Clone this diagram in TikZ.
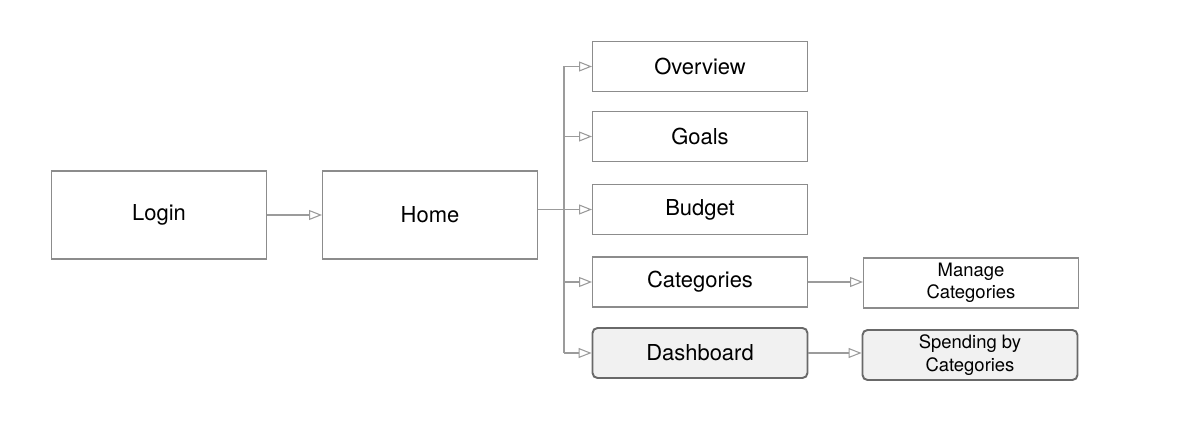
\documentclass[tikz,border=0pt]{standalone}
\usepackage{fontspec}
\setmainfont{TeX Gyre Heros}
\usetikzlibrary{arrows.meta}

\definecolor{boxgray}{RGB}{140,140,140}
\definecolor{linegray}{RGB}{155,155,155}
\definecolor{darkline}{RGB}{105,105,105}
\definecolor{lightfill}{RGB}{241,241,241}

\begin{document}
\begin{tikzpicture}[x = 0.02cm, y = -0.02cm,
	screen/.style = {draw = boxgray, line width = 0.6pt, fill = white, inner sep = 0pt, minimum width = 4.3cm, minimum height = 1cm, align = center, font = \fontsize{12.5}{14}\selectfont},
	bigscreen/.style = {screen, minimum height = 1.76cm},
	smallscreen/.style = {screen, font = \fontsize{10.5}{12.8}\selectfont},
	hilite/.style = {draw = darkline, line width = 1.1pt, fill = lightfill, rounded corners = 0.1cm},
	link/.style = {draw = linegray, line width = 0.6pt},
	flow/.style = {link, -{Triangle[open, length = 0.26cm, width = 0.2cm]}}]
							\useasboundingbox (0, 0) rectangle (1200, 446);

							\node[bigscreen](login) at (159, 215){Login};
							\node[bigscreen](home) at (430, 215){Home};

							\node[screen](overview) at (700, 66.5){Overview};
							\node[screen](goals) at (700, 136.5){Goals};
							\node[screen](budget) at (700, 209.5){Budget};
							\node[screen](categories) at (700, 282){Categories};
							\node[screen, hilite](dashboard) at (700, 353){Dashboard};

							\node[smallscreen](manage) at (971, 283){Manage\\Categories};
							\node[smallscreen, hilite](spending) at (970, 355){Spending by\\Categories};

							\coordinate[](trunk) at (564, 0);

							\draw[flow] (login.east)--(home.west);
							\draw[link] (home.east |- budget)--(trunk |- budget);
							\draw[link] (trunk |- overview)--(trunk |- dashboard);
							\foreach \page in {overview, goals, budget, categories, dashboard}
								\draw[flow] (trunk |- \page)--(\page.west);

							\draw[flow] (categories.east)--(categories.east -| manage.west);
							\draw[flow] (dashboard.east)--(dashboard.east -| spending.west);
						\end{tikzpicture}
\end{document}
